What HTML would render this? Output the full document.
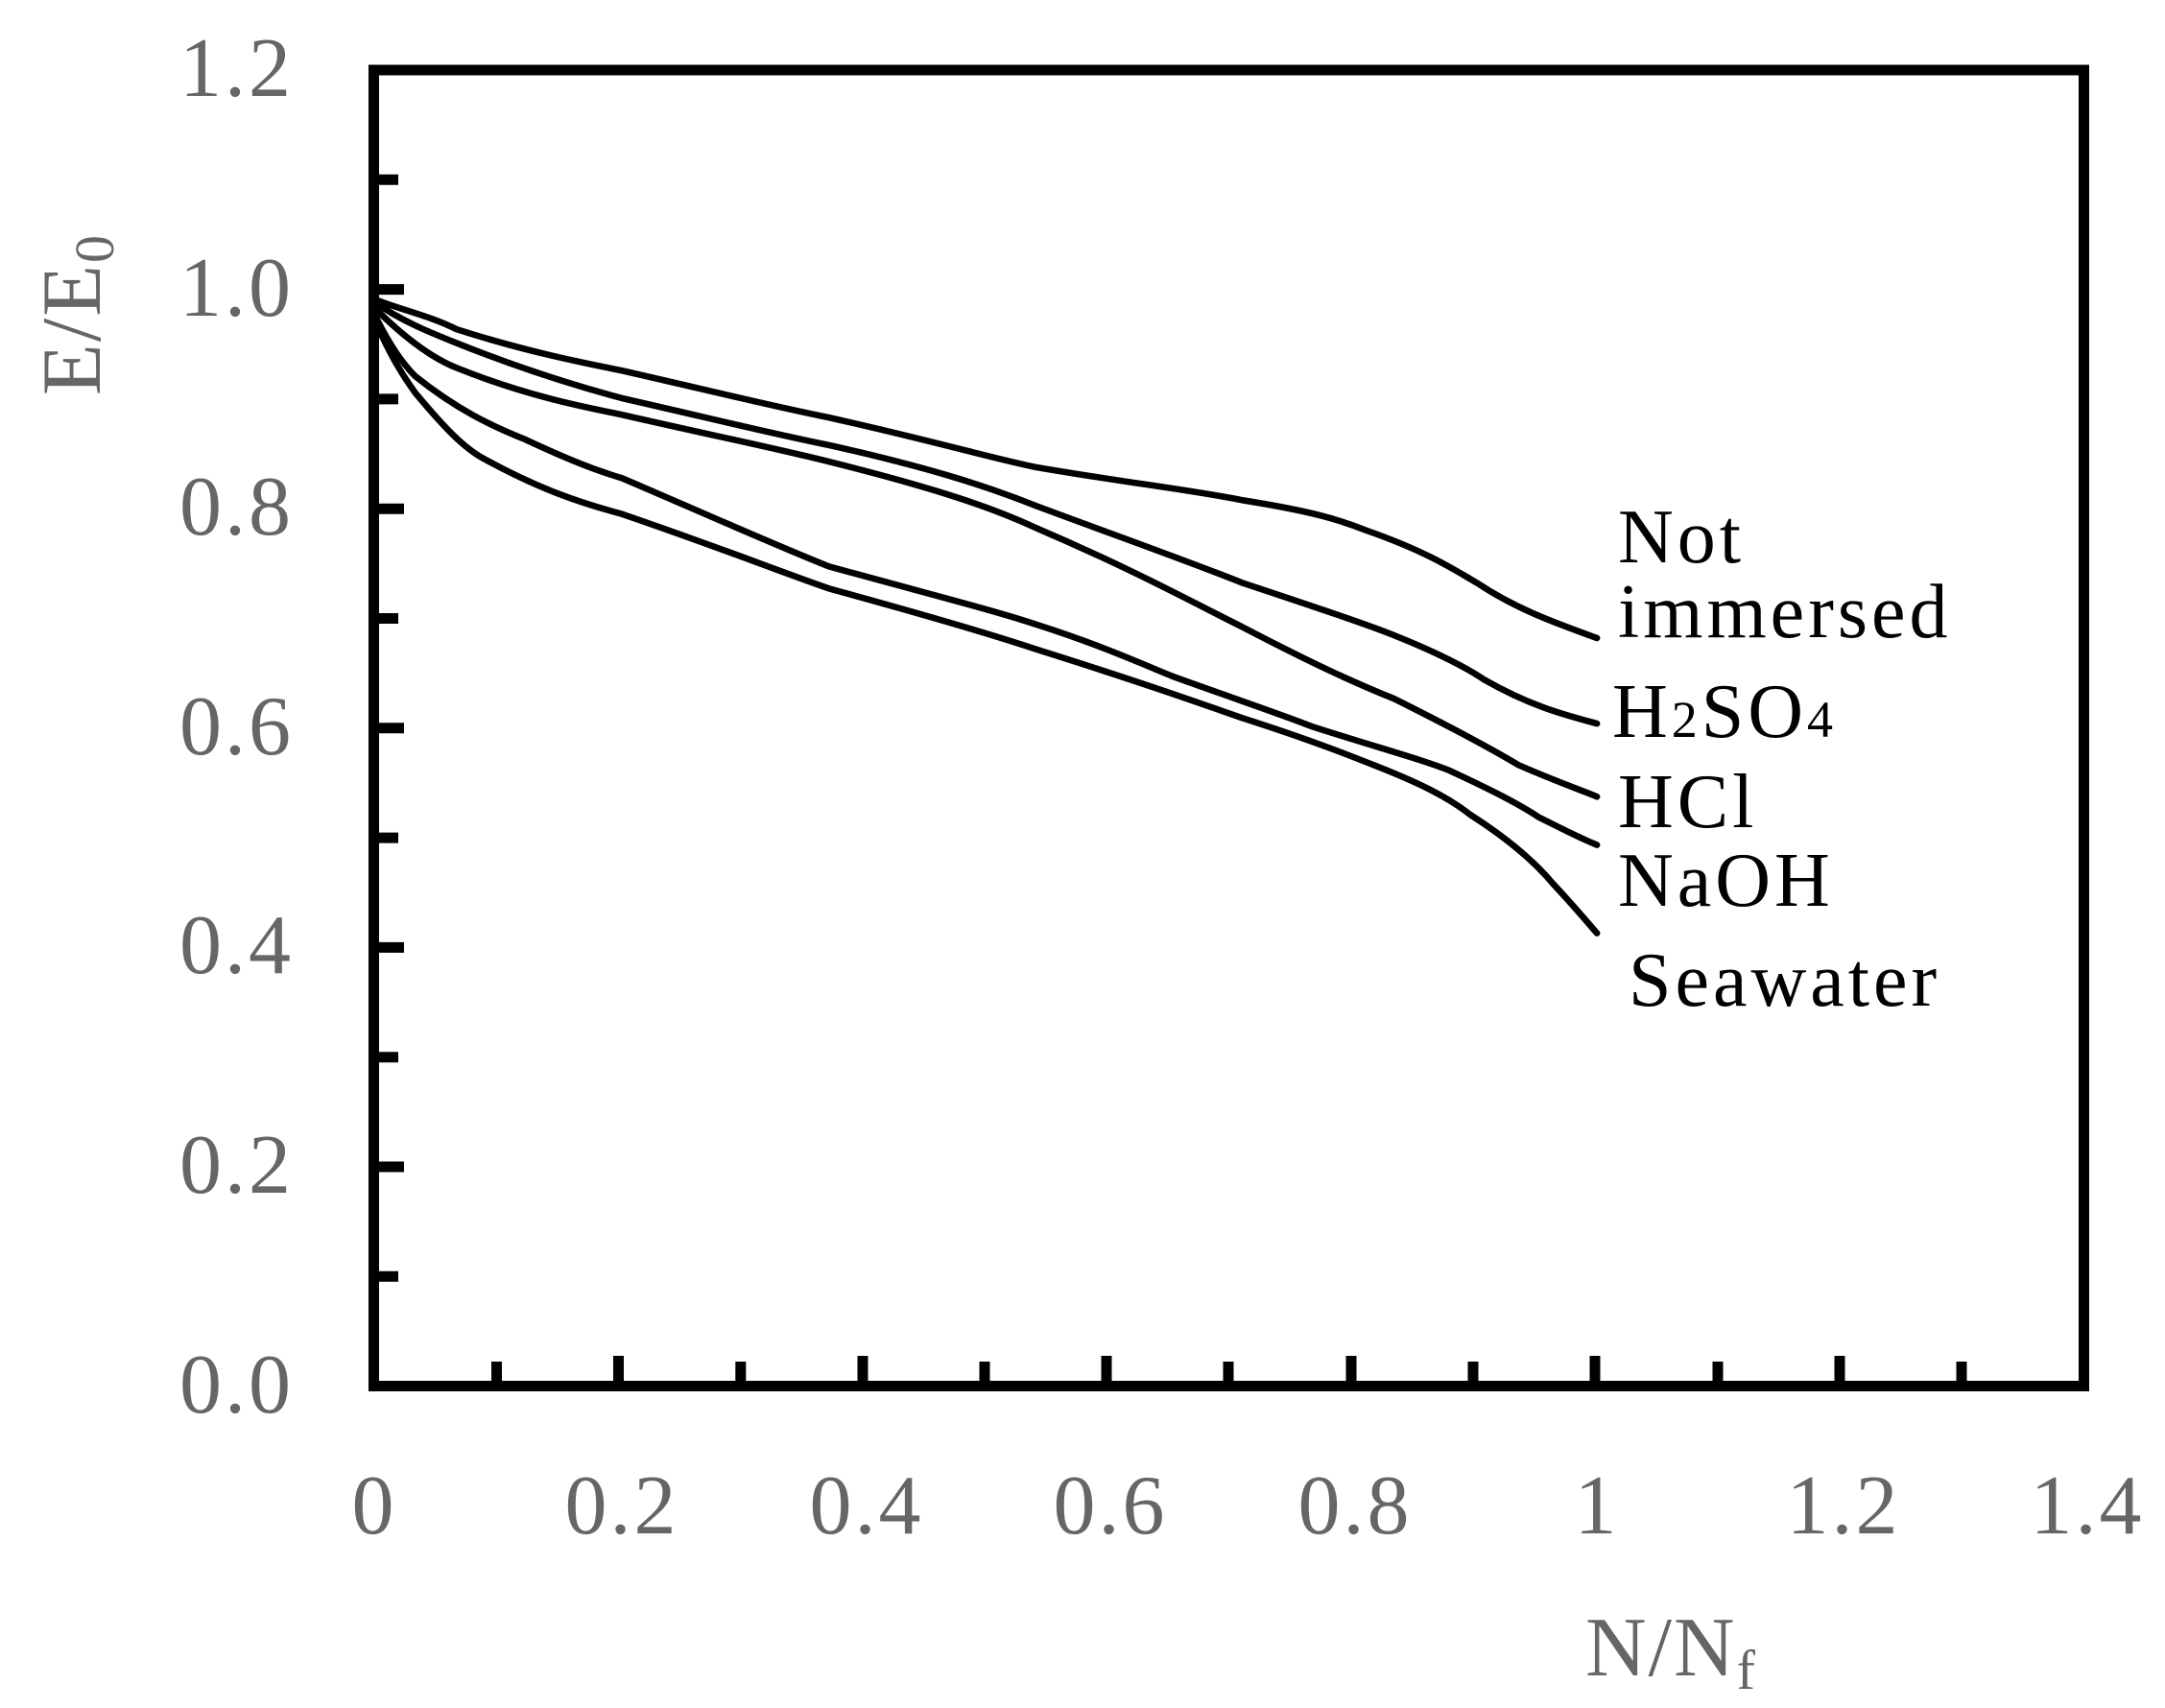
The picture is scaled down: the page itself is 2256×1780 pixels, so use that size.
<!DOCTYPE html>
<html><head><meta charset="utf-8"><style>
html,body{margin:0;padding:0;background:#fff;}
svg{display:block;}
</style></head><body>
<svg width="2256" height="1780" viewBox="0 0 2256 1780" xmlns="http://www.w3.org/2000/svg">
<rect width="2256" height="1780" fill="#fff"/>
<rect x="389.5" y="73" width="1782" height="1371.5" fill="none" stroke="#000" stroke-width="11"/>
<g stroke="#000" stroke-width="11">
<line x1="389" y1="187.3" x2="415" y2="187.3"/>
<line x1="389" y1="301.6" x2="421" y2="301.6"/>
<line x1="389" y1="415.9" x2="415" y2="415.9"/>
<line x1="389" y1="530.2" x2="421" y2="530.2"/>
<line x1="389" y1="644.5" x2="415" y2="644.5"/>
<line x1="389" y1="758.8" x2="421" y2="758.8"/>
<line x1="389" y1="873.1" x2="415" y2="873.1"/>
<line x1="389" y1="987.4" x2="421" y2="987.4"/>
<line x1="389" y1="1101.7" x2="415" y2="1101.7"/>
<line x1="389" y1="1216" x2="421" y2="1216"/>
<line x1="389" y1="1330.3" x2="415" y2="1330.3"/>
</g>
<g stroke="#000" stroke-width="11">
<line x1="517.5" y1="1445" x2="517.5" y2="1419"/>
<line x1="644.5" y1="1445" x2="644.5" y2="1413"/>
<line x1="771.8" y1="1445" x2="771.8" y2="1419"/>
<line x1="899" y1="1445" x2="899" y2="1413"/>
<line x1="1026" y1="1445" x2="1026" y2="1419"/>
<line x1="1153" y1="1445" x2="1153" y2="1413"/>
<line x1="1280" y1="1445" x2="1280" y2="1419"/>
<line x1="1408" y1="1445" x2="1408" y2="1413"/>
<line x1="1535" y1="1445" x2="1535" y2="1419"/>
<line x1="1662" y1="1445" x2="1662" y2="1413"/>
<line x1="1790" y1="1445" x2="1790" y2="1419"/>
<line x1="1917" y1="1445" x2="1917" y2="1413"/>
<line x1="2044" y1="1445" x2="2044" y2="1419"/>
</g>
<g font-family="Liberation Serif, serif" font-size="88" fill="#666" text-anchor="end" letter-spacing="3">
<text x="306" y="100">1.2</text>
<text x="306" y="329">1.0</text>
<text x="306" y="557">0.8</text>
<text x="306" y="786">0.6</text>
<text x="306" y="1014">0.4</text>
<text x="306" y="1243">0.2</text>
<text x="306" y="1472">0.0</text>
</g>
<g font-family="Liberation Serif, serif" font-size="88" fill="#666" text-anchor="middle" letter-spacing="3">
<text x="390" y="1598">0</text>
<text x="648" y="1598">0.2</text>
<text x="903" y="1598">0.4</text>
<text x="1157" y="1598">0.6</text>
<text x="1412" y="1598">0.8</text>
<text x="1664" y="1598">1</text>
<text x="1921" y="1598">1.2</text>
<text x="2175" y="1598">1.4</text>
</g>
<text x="1652" y="1746" font-family="Liberation Serif, serif" font-size="88" fill="#666" letter-spacing="2">N/N<tspan font-size="58" dy="14">f</tspan></text>
<text transform="translate(104,412) rotate(-90)" font-family="Liberation Serif, serif" font-size="88" fill="#666" letter-spacing="2">E/E<tspan font-size="58" dy="14">0</tspan></text>
<g transform="matrix(1.437,0,0,1.437,1.5,4)" fill="none" stroke="#000" stroke-width="4.6" stroke-linejoin="round" stroke-linecap="round">
<path d="M270,214 C290,222 310,226 330,236 C380,252 420,260 450,266 C520,282 560,292 600,300 C680,318 720,330 750,336 C820,348 860,352 900,360 C950,368 970,374 990,382 C1030,396 1050,408 1070,420 C1100,440 1130,450 1157,460"/>
<path d="M270,216 C290,230 310,238 330,246 C380,266 420,278 450,286 C520,302 560,312 600,320 C680,338 720,352 750,364 C820,390 860,404 900,420 C960,440 990,450 1010,458 C1040,470 1060,480 1075,490 C1110,510 1135,516 1157,522"/>
<path d="M270,220 C290,240 310,256 330,264 C380,284 420,292 450,298 C520,314 560,322 600,332 C680,352 720,366 750,380 C820,410 860,432 900,452 C950,478 980,492 1010,504 C1050,524 1080,540 1100,552 C1130,565 1145,570 1157,575"/>
<path d="M270,224 C280,245 290,260 300,270 C330,294 355,306 380,316 C410,330 430,338 450,344 C520,374 560,392 600,408 C680,430 720,440 750,450 C800,466 830,480 850,488 C900,506 930,516 950,524 C1000,540 1030,548 1050,556 C1080,570 1100,580 1115,590 C1135,600 1145,605 1157,610"/>
<path d="M270,228 C282,255 290,268 300,282 C320,306 335,322 350,330 C390,352 420,362 450,370 C520,394 560,410 600,424 C680,446 720,458 750,468 C820,490 860,504 900,518 C950,534 980,546 1000,554 C1030,566 1050,576 1065,588 C1090,604 1110,620 1125,638 C1140,654 1150,666 1157,674"/>
</g>
<g font-family="Liberation Serif, serif" font-size="80" fill="#000" letter-spacing="4">
<text x="1686" y="586">Not</text>
<text x="1686" y="664">immersed</text>
<text x="1680" y="768">H<tspan font-size="54">2</tspan>SO<tspan font-size="54">4</tspan></text>
<text x="1686" y="862">HCl</text>
<text x="1686" y="944">NaOH</text>
<text x="1697" y="1048">Seawater</text>
</g>
</svg>
</body></html>
